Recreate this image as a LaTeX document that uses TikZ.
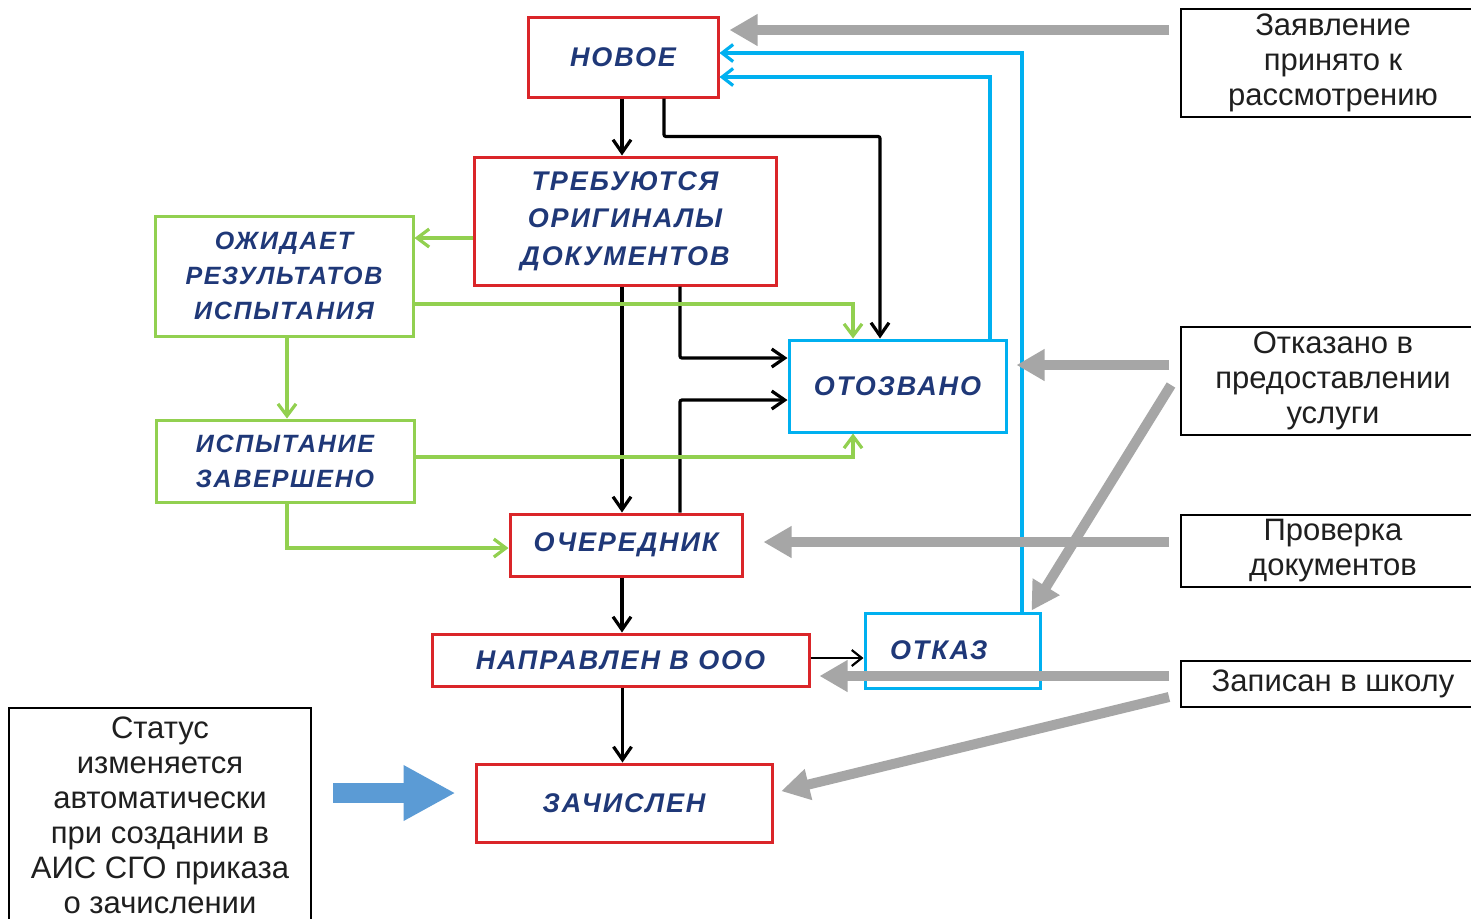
\documentclass[tikz,border=0pt]{standalone}
\usepackage{fontspec}
\setmainfont{Liberation Sans}
\newfontfamily\stfont[LetterSpace=7]{Liberation Sans}
\usetikzlibrary{arrows.meta,calc}
\definecolor{redc}{RGB}{218,37,41}
\definecolor{greenc}{RGB}{146,208,80}
\definecolor{bluec}{RGB}{0,176,240}
\definecolor{navy}{RGB}{31,56,120}
\definecolor{grayc}{RGB}{166,166,166}
\definecolor{arrblue}{RGB}{91,155,213}
\begin{document}
\begin{tikzpicture}[x=0.5pt,y=-0.5pt,
  stbox/.style={inner sep=0pt, align=center, text=navy, line width=1.5pt,
    font=\stfont\bfseries\itshape\fontsize{13.5}{18.75}\selectfont},
  redbox/.style={stbox, draw=redc},
  greenbox/.style={stbox, draw=greenc, font=\stfont\bfseries\itshape\fontsize{12.5}{17.5}\selectfont},
  bluebox/.style={stbox, draw=bluec},
  notebox/.style={draw=black, line width=1pt, inner sep=0pt, align=center,
    font=\fontsize{15.5}{17.5}\selectfont, text=black!88},
  blk/.style={draw=black, line width=1.6pt, -{Straight Barb[length=6.5pt,width=9pt,line width=1.6pt]}},
  blkthin/.style={draw=black, line width=1.1pt, -{Straight Barb[length=5pt,width=8pt,line width=1.1pt]}},
  grn/.style={draw=greenc, line width=1.6pt, -{Straight Barb[length=6pt,width=9pt,line width=1.6pt]}},
  blu/.style={draw=bluec, line width=1.6pt, -{Straight Barb[length=5.5pt,width=8.5pt,line width=1.6pt]}},
  garr/.style={draw=grayc, line width=5pt, -{Triangle[length=14pt,width=15pt]}},
  barr/.style={draw=arrblue, line width=10pt, -{Triangle[length=26pt,width=26pt]}}
]
\useasboundingbox (0,0) rectangle (1471,918);
\fill[white] (0,0) rectangle (1471,918);

% status nodes
\node[redbox, minimum width=95pt, minimum height=40pt] (nov) at (623,57) {НОВОЕ};
\node[redbox, minimum width=151pt, minimum height=64pt] (treb) at (625,221) {ТРЕБУЮТСЯ\\ОРИГИНАЛЫ\\ДОКУМЕНТОВ};
\node[greenbox, minimum width=129pt, minimum height=60pt] (ozh) at (284,276) {ОЖИДАЕТ\\РЕЗУЛЬТАТОВ\\ИСПЫТАНИЯ};
\node[greenbox, minimum width=129pt, minimum height=41pt] (isp) at (285,461) {ИСПЫТАНИЕ\\ЗАВЕРШЕНО};
\node[bluebox, minimum width=108.5pt, minimum height=46pt] (otz) at (897.5,386) {ОТОЗВАНО};
\node[redbox, minimum width=116pt, minimum height=31pt] (och) at (626,545) {ОЧЕРЕДНИК};
\node[redbox, minimum width=188.5pt, minimum height=26pt] (nap) at (620.5,660) {НАПРАВЛЕН В ООО};
\node[bluebox, minimum height=37.5pt, text width=62.5pt, inner xsep=12.5pt, align=left] (otk) at (952.5,650.5) {ОТКАЗ};
\node[redbox, minimum width=148pt, minimum height=39pt] (zach) at (624,803) {ЗАЧИСЛЕН};

% note boxes
\node[notebox, minimum width=152pt, minimum height=54pt] (zay) at (1333,63) {Заявление\\принято к\\рассмотрению};
\node[notebox, minimum width=152pt, minimum height=54pt] (otkz) at (1333,381) {Отказано в\\предоставлении\\услуги};
\node[notebox, minimum width=152pt, minimum height=36pt] (pro) at (1333,551) {Проверка\\документов};
\node[notebox, minimum width=152pt, minimum height=23pt] (zap) at (1333,684) {Записан в школу};
\node[notebox, minimum width=151pt, minimum height=107pt] (lbox) at (160,815) {Статус\\изменяется\\автоматически\\при создании в\\АИС СГО приказа\\о зачислении};

% black connectors
\draw[blk] ([xshift=-0.5pt]nov.south) -- ([xshift=-0.5pt]nov.south |- treb.north);
\draw[blk, rounded corners=1pt] ([xshift=20.5pt]nov.south) -- ++(0,38) -| ([xshift=-8.75pt]otz.north);
\draw[blk] ([xshift=-1.5pt]treb.south) -- ([xshift=-1.5pt]treb.south |- och.north);
\draw[blk, rounded corners=1pt] ([xshift=27.5pt]treb.south) |- ([yshift=14pt]otz.west);
\draw[blk, rounded corners=1pt] ([xshift=27pt]och.north) |- ([yshift=-7pt]otz.west);
\draw[blk] ([xshift=-2pt]och.south) -- ([xshift=-2pt]och.south |- nap.north);
\draw[blk] ([xshift=1pt]nap.south) -- ([xshift=1pt]nap.south |- zach.north);
\draw[blkthin] ([yshift=1pt]nap.east) -- ([yshift=1pt]nap.east -| otk.west);

% green connectors
\draw[grn] ([yshift=-8.5pt]treb.west) -- ([yshift=-8.5pt]treb.west -| ozh.east);
\draw[grn] ([yshift=-14pt]ozh.east) -| ([xshift=-22.25pt]otz.north);
\draw[grn] ([xshift=1.5pt]ozh.south) -- ([xshift=1.5pt]ozh.south |- isp.north);
\draw[grn] ([yshift=2pt]isp.east) -| ([xshift=-22.25pt]otz.south);
\draw[grn] ([xshift=1pt]isp.south) |- ([yshift=-1.5pt]och.west);

% blue connectors
\draw[blu] ([xshift=46.25pt]otz.north) |- ([yshift=-10pt]nov.east);
\draw[blu] ([xshift=34.75pt]otk.north) |- ([yshift=2pt]nov.east);

% gray arrows
\draw[garr, shorten >=5pt] ([xshift=-5.5pt,yshift=16.5pt]zay.west) coordinate (g1) -- (g1 -| nov.east);
\draw[garr, shorten >=4.5pt] ([xshift=-5.5pt,yshift=8pt]otkz.west) coordinate (g2) -- (g2 -| otz.east);
\draw[garr] ([xshift=-4.5pt,yshift=-2pt]otkz.west) -- ([xshift=-5pt,yshift=0.5pt]otk.north east);
\draw[garr, shorten >=10pt] ([xshift=-5.5pt,yshift=4.5pt]pro.west) coordinate (g3) -- (g3 -| och.east);
\draw[garr, shorten >=4.5pt] ([xshift=-5.5pt,yshift=4pt]zap.west) coordinate (g4) -- (g4 -| nap.east);
\draw[garr, shorten >=4pt] ([xshift=-5.5pt,yshift=-6.5pt]zap.west) -- ([yshift=5pt]zach.east);

% blue block arrow
\draw[barr, shorten <=10.5pt, shorten >=9.5pt] ([yshift=5pt]zach.west -| lbox.east) -- ([yshift=5pt]zach.west);
\end{tikzpicture}
\end{document}
